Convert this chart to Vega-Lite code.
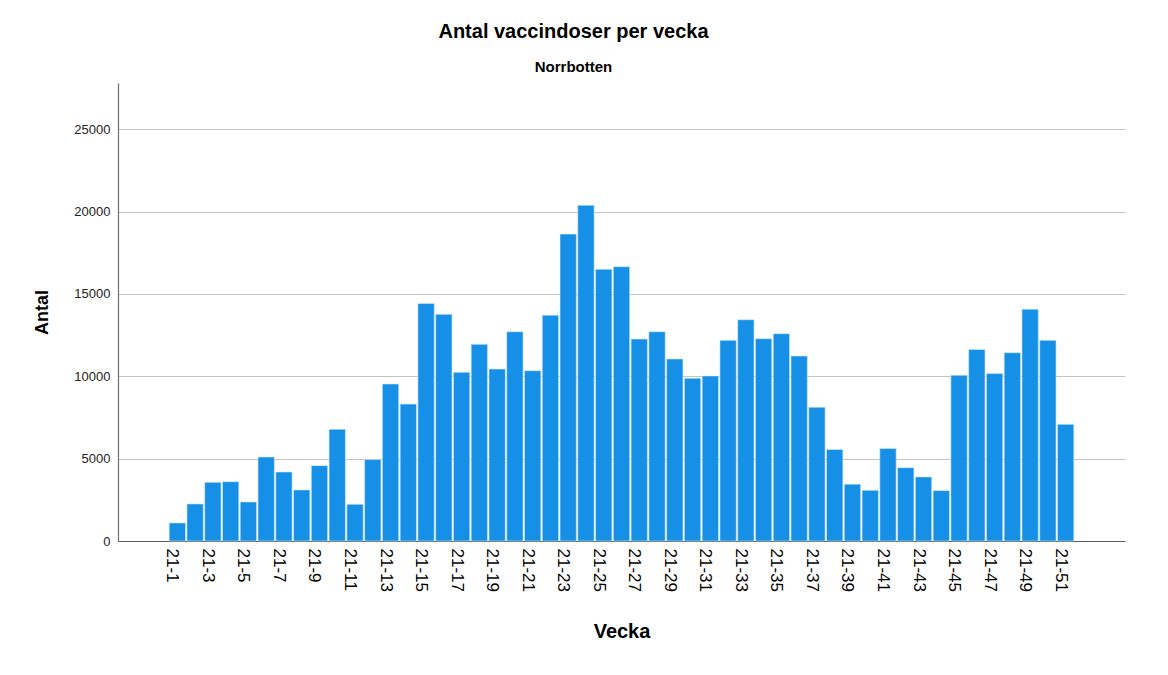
{
  "$schema": "https://vega.github.io/schema/vega-lite/v6.json",
  "width": 1007,
  "height": 458,
  "autosize": {"type": "none"},
  "padding": {"left": 118, "top": 83, "right": 43, "bottom": 134},
  "background": "white",
  "title": {
    "text": "Antal vaccindoser per vecka",
    "subtitle": "Norrbotten",
    "anchor": "middle",
    "dx": -48,
    "font": "Liberation Sans",
    "fontSize": 20,
    "fontWeight": "bold",
    "color": "#000000",
    "subtitleFont": "Liberation Sans",
    "subtitleFontSize": 15,
    "subtitleFontWeight": "bold",
    "subtitleColor": "#000000",
    "subtitlePadding": 18,
    "offset": 8
  },
  "data": {
    "values": [
      {"vecka": "21-1", "antal": 1100},
      {"vecka": "21-2", "antal": 2250},
      {"vecka": "21-3", "antal": 3560},
      {"vecka": "21-4", "antal": 3600},
      {"vecka": "21-5", "antal": 2370},
      {"vecka": "21-6", "antal": 5100},
      {"vecka": "21-7", "antal": 4190},
      {"vecka": "21-8", "antal": 3100},
      {"vecka": "21-9", "antal": 4575},
      {"vecka": "21-10", "antal": 6780},
      {"vecka": "21-11", "antal": 2230},
      {"vecka": "21-12", "antal": 4940},
      {"vecka": "21-13", "antal": 9530},
      {"vecka": "21-14", "antal": 8310},
      {"vecka": "21-15", "antal": 14420},
      {"vecka": "21-16", "antal": 13760},
      {"vecka": "21-17", "antal": 10240},
      {"vecka": "21-18", "antal": 11935},
      {"vecka": "21-19", "antal": 10440},
      {"vecka": "21-20", "antal": 12700},
      {"vecka": "21-21", "antal": 10340},
      {"vecka": "21-22", "antal": 13710},
      {"vecka": "21-23", "antal": 18630},
      {"vecka": "21-24", "antal": 20380},
      {"vecka": "21-25", "antal": 16490},
      {"vecka": "21-26", "antal": 16650},
      {"vecka": "21-27", "antal": 12260},
      {"vecka": "21-28", "antal": 12700},
      {"vecka": "21-29", "antal": 11050},
      {"vecka": "21-30", "antal": 9880},
      {"vecka": "21-31", "antal": 10020},
      {"vecka": "21-32", "antal": 12180},
      {"vecka": "21-33", "antal": 13430},
      {"vecka": "21-34", "antal": 12280},
      {"vecka": "21-35", "antal": 12580},
      {"vecka": "21-36", "antal": 11230},
      {"vecka": "21-37", "antal": 8120},
      {"vecka": "21-38", "antal": 5560},
      {"vecka": "21-39", "antal": 3450},
      {"vecka": "21-40", "antal": 3080},
      {"vecka": "21-41", "antal": 5620},
      {"vecka": "21-42", "antal": 4450},
      {"vecka": "21-43", "antal": 3890},
      {"vecka": "21-44", "antal": 3060},
      {"vecka": "21-45", "antal": 10060},
      {"vecka": "21-46", "antal": 11630},
      {"vecka": "21-47", "antal": 10160},
      {"vecka": "21-48", "antal": 11430},
      {"vecka": "21-49", "antal": 14070},
      {"vecka": "21-50", "antal": 12180},
      {"vecka": "21-51", "antal": 7080}
    ]
  },
  "mark": {"type": "bar", "color": "#1590e6", "stroke": "#d6ebfa", "strokeWidth": 0.6},
  "encoding": {
    "x": {
      "field": "vecka",
      "type": "nominal",
      "scale": {
        "domain": ["p1","p2","21-1","21-2","21-3","21-4","21-5","21-6","21-7","21-8","21-9","21-10","21-11","21-12","21-13","21-14","21-15","21-16","21-17","21-18","21-19","21-20","21-21","21-22","21-23","21-24","21-25","21-26","21-27","21-28","21-29","21-30","21-31","21-32","21-33","21-34","21-35","21-36","21-37","21-38","21-39","21-40","21-41","21-42","21-43","21-44","21-45","21-46","21-47","21-48","21-49","21-50","21-51","q1","q2"],
        "paddingInner": 0.08,
        "paddingOuter": 0.88
      },
      "axis": {
        "title": "Vecka",
        "titleFont": "Liberation Sans",
        "titleFontSize": 20,
        "titleFontWeight": "bold",
        "titleColor": "#000000",
        "titlePadding": 30,
        "values": ["21-1","21-3","21-5","21-7","21-9","21-11","21-13","21-15","21-17","21-19","21-21","21-23","21-25","21-27","21-29","21-31","21-33","21-35","21-37","21-39","21-41","21-43","21-45","21-47","21-49","21-51"],
        "labelAngle": 90,
        "labelFont": "Liberation Sans",
        "labelFontSize": 17,
        "labelColor": "#000000",
        "labelOffset": -5,
        "labelPadding": 7,
        "ticks": false,
        "domainColor": "#5a5a5a",
        "domainWidth": 1.2,
        "grid": false
      }
    },
    "y": {
      "field": "antal",
      "type": "quantitative",
      "scale": {"domain": [0, 27800], "nice": false, "zero": true},
      "axis": {
        "title": "Antal",
        "titleFont": "Liberation Sans",
        "titleFontSize": 18,
        "titleFontWeight": "bold",
        "titleColor": "#000000",
        "titlePadding": 22,
        "values": [0, 5000, 10000, 15000, 20000, 25000],
        "format": "d",
        "labelFont": "Liberation Sans",
        "labelFontSize": 13,
        "labelColor": "#222222",
        "labelPadding": 8,
        "ticks": false,
        "domainColor": "#707070",
        "domainWidth": 1.2,
        "grid": true,
        "gridColor": "#c4c4c4",
        "gridWidth": 1
      }
    }
  },
  "config": {
    "view": {"stroke": null}
  }
}
